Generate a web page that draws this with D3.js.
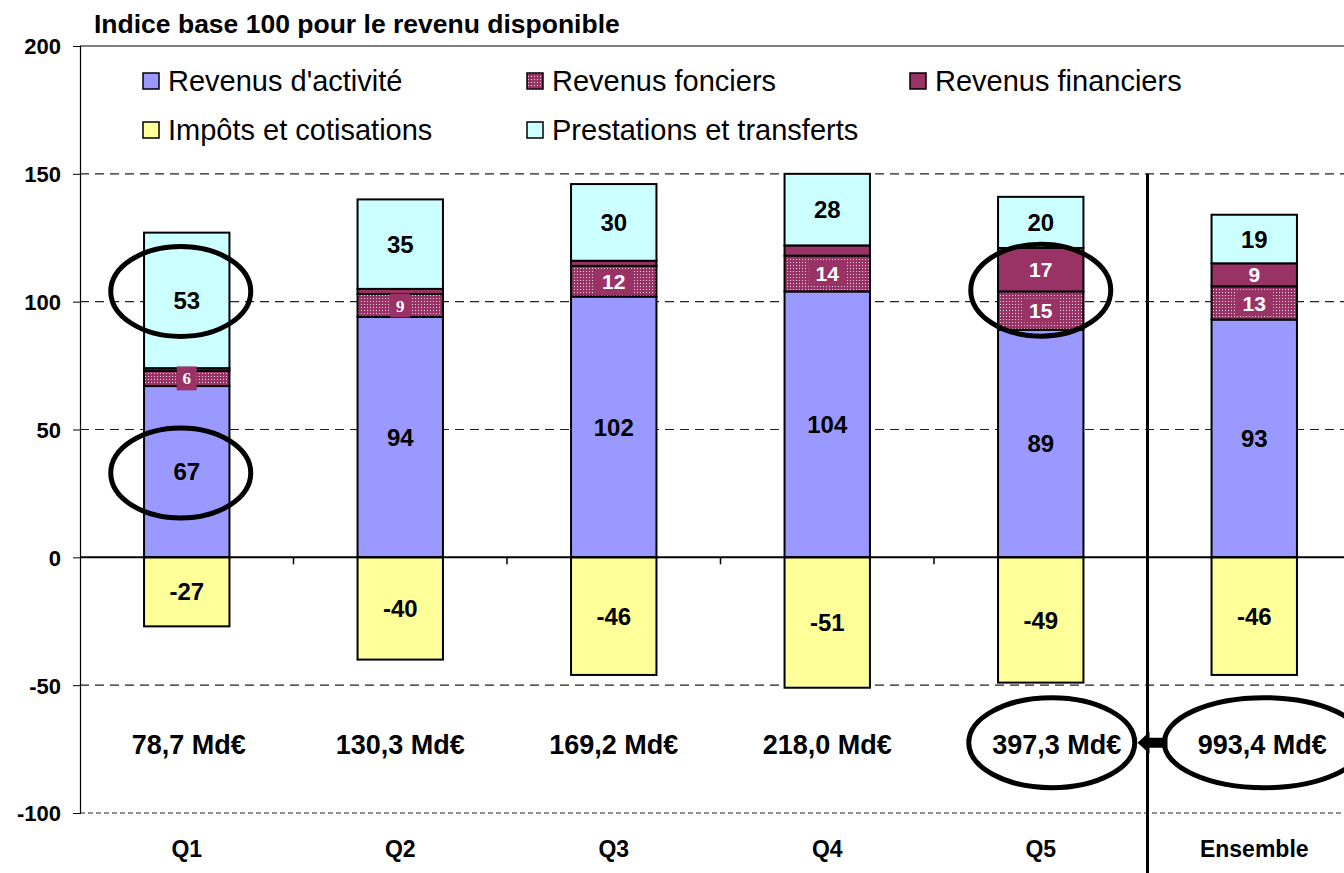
<!DOCTYPE html>
<html>
<head>
<meta charset="utf-8">
<script src="https://cdn.jsdelivr.net/npm/d3@7"></script>
<style>
  body { margin: 0; background: #fff; }
  text { font-family: "Liberation Sans", Arial, sans-serif; }
</style>
</head>
<body>
<div id="graph"></div>
<script>
var width = 1344, height = 873;

// data
var categories = ["Q1", "Q2", "Q3", "Q4", "Q5", "Ensemble"];
var activite = [67, 94, 102, 104, 89, 93];
var fonciers = [6, 9, 12, 14, 15, 13];
var financiers = [1, 2, 2, 4, 17, 9];
var prestations = [53, 35, 30, 28, 20, 19];
var impots = [-27, -40, -46, -51, -49, -46];
var masses = ["78,7 Md€", "130,3 Md€", "169,2 Md€", "218,0 Md€", "397,3 Md€", "993,4 Md€"];
var yTicks = [-100, -50, 0, 50, 100, 150, 200];

var seriesKeys = ["activite", "fonciers", "financiers", "prestations", "impots"];
var seriesNames = {
  activite: "Revenus d'activité", fonciers: "Revenus fonciers", financiers: "Revenus financiers",
  impots: "Impôts et cotisations", prestations: "Prestations et transferts"
};
var colors = {
  activite: "#9999ff", fonciers: "url(#dots)", financiers: "#993366",
  impots: "#ffff99", prestations: "#ccffff"
};

var table = categories.map(function(c, i) {
  return { cat: c, activite: activite[i], fonciers: fonciers[i], financiers: financiers[i],
           prestations: prestations[i], impots: impots[i] };
});

var svg = d3.select('#graph').append('svg')
    .attr('width', width)
    .attr('height', height);

// dotted pattern for revenus fonciers
var pat = svg.append("defs").append("pattern")
    .attr("id", "dots").attr("patternUnits", "userSpaceOnUse")
    .attr("width", 3).attr("height", 3);
pat.append("rect").attr("width", 3).attr("height", 3).attr("fill", "#993366");
pat.append("rect").attr("x", 1).attr("y", 1).attr("width", 1).attr("height", 1).attr("fill", "#f2dbe6");

var y = d3.scaleLinear().domain([-100, 200]).range([813, 46]);
var x = d3.scaleBand().domain(categories).range([80, 80 + 6 * 213.5])
    .paddingInner(0.6).paddingOuter(0.3);
var step = x.step(), bw = x.bandwidth();

// grid
svg.append("g").selectAll("line")
  .data([-100, -50, 50, 100, 150])
  .enter().append("line")
    .attr("x1", 80).attr("x2", width)
    .attr("y1", function(d) { return y(d); }).attr("y2", function(d) { return y(d); })
    .attr("stroke", "#222").attr("stroke-width", 1.2)
    .attr("stroke-dasharray", function(d) { return d == -100 ? "5,3" : "9,6"; });
svg.append("line").attr("x1", 80).attr("x2", width)
    .attr("y1", y(200)).attr("y2", y(200)).attr("stroke", "#000").attr("stroke-width", 1.2);

// y axis
var yAxis = svg.append("g").attr("transform", "translate(80,0)")
    .call(d3.axisLeft(y).tickValues(yTicks).tickSize(7).tickFormat(function(d) { return String(d); }));
yAxis.select(".domain").attr("stroke", "#000").attr("stroke-width", 1.2);
yAxis.selectAll(".tick line").attr("stroke", "#000");
yAxis.selectAll("text").attr("x", -19).attr("dy", "0.36em")
    .style("font-size", "22px").style("font-weight", "bold").attr("fill", "#000");

// stacked bars
var stack = d3.stack().keys(seriesKeys).offset(d3.stackOffsetDiverging);
var layers = stack(table);

var layerG = svg.append("g").selectAll("g")
  .data(layers)
  .enter().append("g")
    .attr("fill", function(d) { return colors[d.key]; });

layerG.selectAll("rect")
  .data(function(d) { return d; })
  .enter().append("rect")
    .attr("x", function(d) { return x(d.data.cat); })
    .attr("width", bw)
    .attr("y", function(d) { return y(d[1]); })
    .attr("height", function(d) { return y(d[0]) - y(d[1]); })
    .attr("stroke", "#000").attr("stroke-width", 2);

// zero line + category ticks
svg.append("line").attr("x1", 80).attr("x2", width)
    .attr("y1", y(0)).attr("y2", y(0)).attr("stroke", "#000").attr("stroke-width", 2);
svg.append("g").selectAll("line")
  .data(categories.slice(0, 5))
  .enter().append("line")
    .attr("x1", function(d) { return x(d) - x.paddingOuter() * step + step; })
    .attr("x2", function(d) { return x(d) - x.paddingOuter() * step + step; })
    .attr("y1", y(0)).attr("y2", y(0) + 7)
    .attr("stroke", "#000").attr("stroke-width", 1.5);

// separator before Ensemble
var sepX = x("Ensemble") - x.paddingOuter() * step;
svg.append("line").attr("x1", sepX).attr("x2", sepX)
    .attr("y1", y(150)).attr("y2", height)
    .attr("stroke", "#000").attr("stroke-width", 3);

// value labels
layers.forEach(function(layer) {
  layer.forEach(function(d) {
    var key = layer.key, v = d.data[key];
    if (key == "financiers" && v < 5) return;
    var cx = x(d.data.cat) + bw / 2, cy = y((d[0] + d[1]) / 2);
    if (key == "fonciers" || key == "financiers") {
      var small = v < 10;
      if (key == "fonciers") {
        svg.append("rect")
          .attr("x", cx - (small ? 10 : 19)).attr("y", cy - 12)
          .attr("width", small ? 20 : 38).attr("height", 24)
          .attr("fill", "#993366");
      }
      svg.append("text").attr("x", cx).attr("y", cy).attr("dy", "0.36em")
        .attr("text-anchor", "middle").attr("fill", "#fff")
        .style("font-weight", "bold")
        .style("font-family", (small && key == "fonciers") ? "'Liberation Serif', 'Times New Roman', serif" : null)
        .style("font-size", small && key == "fonciers" ? "17px" : "21px")
        .text(v);
    } else {
      svg.append("text").attr("x", cx).attr("y", cy).attr("dy", "0.36em")
        .attr("text-anchor", "middle").attr("fill", "#000")
        .style("font-weight", "bold").style("font-size", "24px")
        .text(v);
    }
  });
});

// masses (Q5 and Ensemble boxes sit a little to the right)
var massShift = [2, 0, 0, 0, 16, 8];
svg.append("g").selectAll("text")
  .data(masses)
  .enter().append("text")
    .attr("x", function(d, i) { return x(categories[i]) + bw / 2 + massShift[i]; })
    .attr("y", y(-73)).attr("dy", "0.36em")
    .attr("text-anchor", "middle")
    .style("font-weight", "bold").style("font-size", "27px")
    .text(function(d) { return d; });

// category labels
svg.append("g").selectAll("text")
  .data(categories)
  .enter().append("text")
    .attr("x", function(d) { return x(d) + bw / 2; })
    .attr("y", 849).attr("dy", "0.36em")
    .attr("text-anchor", "middle")
    .style("font-weight", "bold").style("font-size", "23px")
    .text(function(d) { return d; });

// title
svg.append("text").attr("x", 94).attr("y", 33)
    .style("font-weight", "bold").style("font-size", "26.5px")
    .text("Indice base 100 pour le revenu disponible");

// legend
var legendItems = [
  { key: "activite", x: 143, y: 81 }, { key: "fonciers", x: 527, y: 81 },
  { key: "financiers", x: 910, y: 81 }, { key: "impots", x: 143, y: 130 },
  { key: "prestations", x: 527, y: 130 }
];
var leg = svg.append("g").selectAll("g")
  .data(legendItems)
  .enter().append("g")
    .attr("transform", function(d) { return "translate(" + d.x + "," + d.y + ")"; });
leg.append("rect").attr("x", 0).attr("y", -8).attr("width", 16).attr("height", 16)
    .attr("fill", function(d) { return colors[d.key]; })
    .attr("stroke", "#000").attr("stroke-width", 1.5);
leg.append("text").attr("x", 25).attr("dy", "0.36em")
    .style("font-size", "29px")
    .text(function(d) { return seriesNames[d.key]; });

// annotation ellipses
var ell = [
  { cat: "Q1", v: 104, rx: 70, ry: 45, dx: -6 },
  { cat: "Q1", v: 33, rx: 70, ry: 45, dx: -6 },
  { cat: "Q5", v: 104.5, rx: 70, ry: 46, dx: 0 }
];
svg.append("g").selectAll("ellipse")
  .data(ell)
  .enter().append("ellipse")
    .attr("cx", function(d) { return x(d.cat) + bw / 2 + d.dx; })
    .attr("cy", function(d) { return y(d.v); })
    .attr("rx", function(d) { return d.rx; }).attr("ry", function(d) { return d.ry; })
    .attr("fill", "none").attr("stroke", "#000").attr("stroke-width", 5);

svg.append("ellipse").attr("cx", x("Q5") + bw / 2 + 11).attr("cy", y(-72.5))
    .attr("rx", 83).attr("ry", 45)
    .attr("fill", "none").attr("stroke", "#000").attr("stroke-width", 5);
svg.append("ellipse").attr("cx", x("Ensemble") + bw / 2 + 10).attr("cy", y(-72.5))
    .attr("rx", 100).attr("ry", 45)
    .attr("fill", "none").attr("stroke", "#000").attr("stroke-width", 5);

// arrow Ensemble -> Q5
var ay = y(-72.5);
svg.append("path")
    .attr("d", "M" + (sepX - 10) + "," + ay + "L" + (sepX + 2) + "," + (ay - 11) +
          "L" + (sepX + 2) + "," + (ay - 5) + "L" + (sepX + 20) + "," + (ay - 5) +
          "L" + (sepX + 20) + "," + (ay + 5) + "L" + (sepX + 2) + "," + (ay + 5) +
          "L" + (sepX + 2) + "," + (ay + 11) + "Z")
    .attr("fill", "#000");
</script>
</body>
</html>
